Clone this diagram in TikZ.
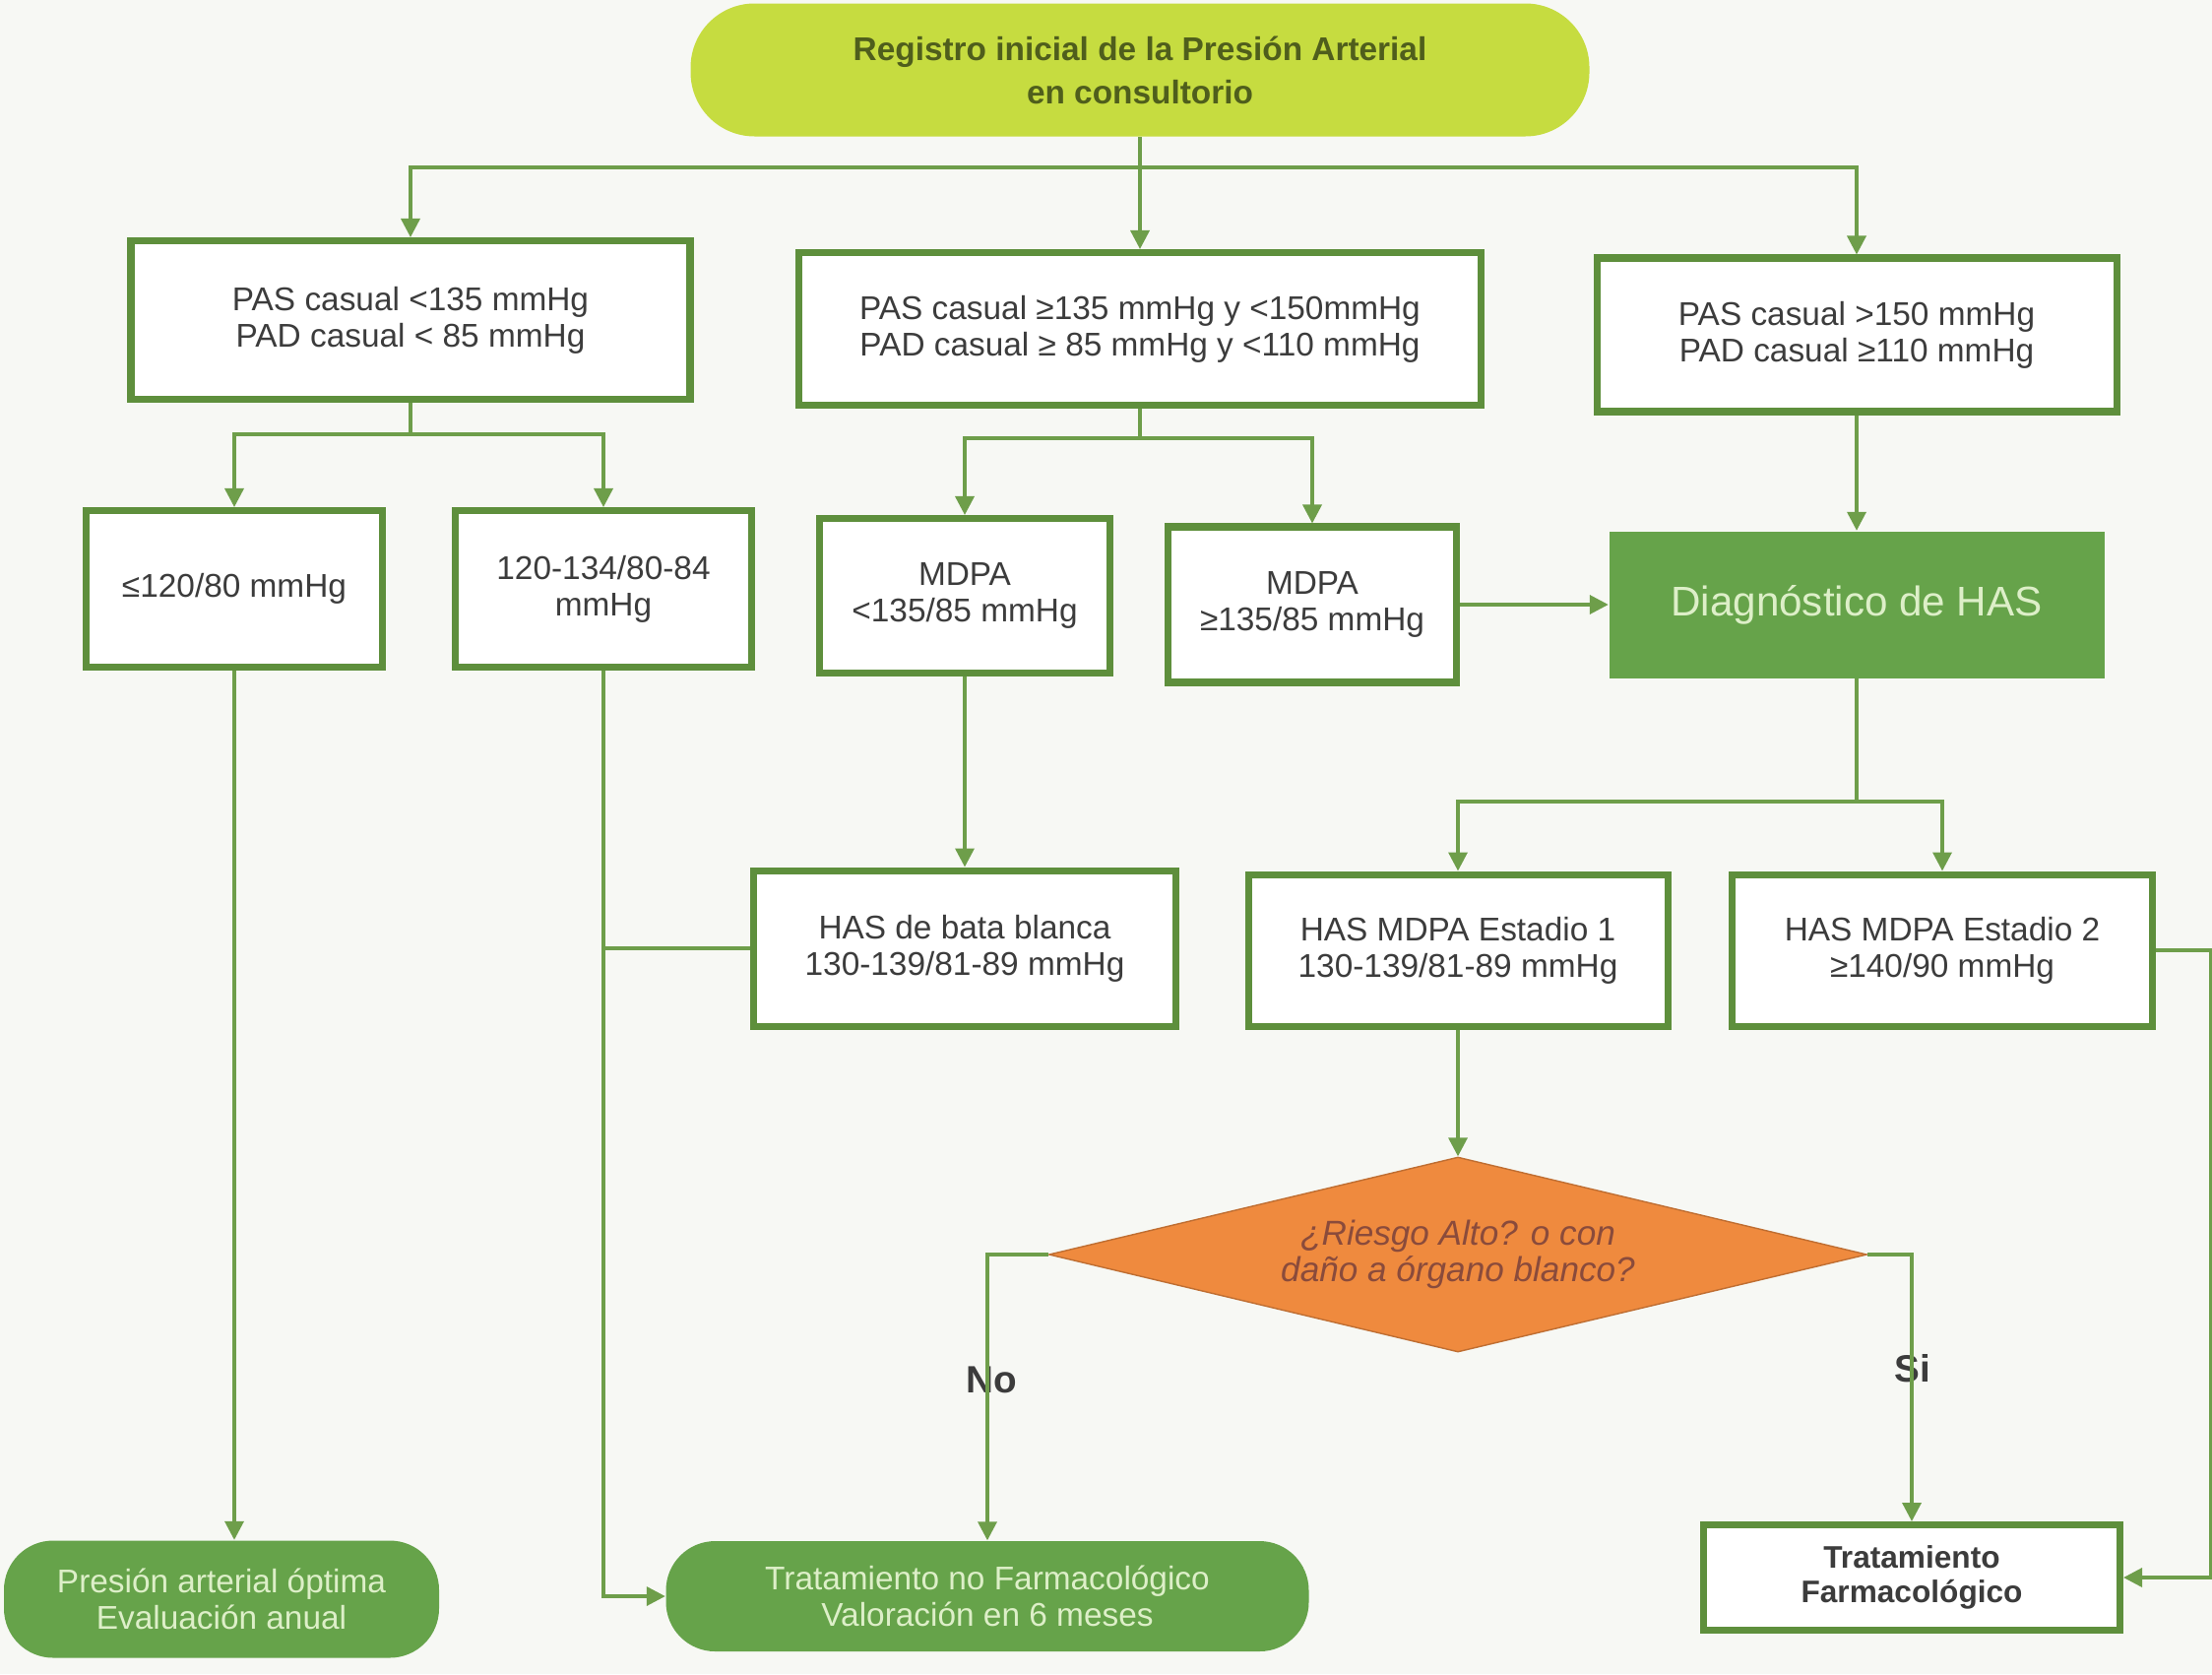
\documentclass[tikz,border=0pt]{standalone}
\usepackage{fontspec}
\setmainfont{Liberation Sans}
\usetikzlibrary{positioning, shapes.geometric, arrows.meta, calc}
\definecolor{hasgreen}{HTML}{5E8F3C}
\definecolor{haslinea}{HTML}{6E9E4A}
\definecolor{hasfill}{HTML}{66A34A}
\definecolor{haslime}{HTML}{C6DC40}
\definecolor{hasolive}{HTML}{4F5E1C}
\definecolor{hasorange}{HTML}{EF8A3E}
\definecolor{hasbrown}{HTML}{8A4B3B}
\definecolor{hastext}{HTML}{3C3C3C}
\definecolor{haslight}{HTML}{DDEFC8}
\definecolor{haspaper}{HTML}{F7F8F4}

\begin{document}
\begin{tikzpicture}[
    caja/.style={draw=hasgreen, line width=2pt, fill=white, text=hastext, align=center, inner sep=0pt, font=\fontsize{9.5}{10.5}\selectfont},
    final/.style={fill=hasfill, rounded corners=0.5cm, text=haslight, align=center, inner sep=0pt, font=\fontsize{9.5}{10.5}\selectfont},
    linea/.style={draw=haslinea, line width=1pt},
    flecha/.style={linea, -{Triangle[length=1.9mm, width=1.9mm]}},
    etiqueta/.style={font=\bfseries\fontsize{11}{13}\selectfont, text=hastext}
  ]
    \fill[haspaper] (0,0) rectangle (22.47,-17);
    \useasboundingbox (0,0) rectangle (22.47,-17);

    \node[fill=haslime, rounded corners=0.65cm, minimum width=9.13cm, minimum height=1.35cm, text=hasolive, align=center, font=\bfseries\fontsize{9.5}{12.5}\selectfont] (reg) at (11.58,-0.71) {Registro inicial de la Presión Arterial\\en consultorio};

    \node[caja, minimum width=5.68cm, minimum height=1.61cm] (pas1) at (4.17,-3.25) {PAS casual <135 mmHg\\PAD casual < 85 mmHg};
    \node[caja, minimum width=6.93cm, minimum height=1.55cm] (pas2) at (11.58,-3.34) {PAS casual ≥135 mmHg y <150mmHg\\PAD casual ≥ 85 mmHg y <110 mmHg};
    \node[caja, minimum width=5.28cm, minimum height=1.56cm] (pas3) at (18.86,-3.40) {PAS casual >150 mmHg\\PAD casual ≥110 mmHg};

    \node[caja, minimum width=3.01cm, minimum height=1.59cm] (opt) at (2.38,-5.98) {≤120/80 mmHg};
    \node[caja, minimum width=3.01cm, minimum height=1.59cm] (normal) at (6.13,-5.98) {120-134/80-84\\mmHg};
    \node[caja, minimum width=2.95cm, minimum height=1.57cm] (mdpa1) at (9.80,-6.05) {MDPA\\<135/85 mmHg};
    \node[caja, minimum width=2.93cm, minimum height=1.58cm] (mdpa2) at (13.33,-6.14) {MDPA\\≥135/85 mmHg};
    \node[fill=hasfill, minimum width=5.03cm, minimum height=1.49cm, inner sep=0pt, text=haslight, font=\fontsize{12}{14}\selectfont] (diag) at (18.86,-6.14) {Diagnóstico de HAS};

    \node[caja, minimum width=4.29cm, minimum height=1.58cm] (bata) at (9.80,-9.63) {HAS de bata blanca\\130-139/81-89 mmHg};
    \node[caja, minimum width=4.26cm, minimum height=1.54cm] (est1) at (14.81,-9.65) {HAS MDPA Estadio 1\\130-139/81-89 mmHg};
    \node[caja, minimum width=4.27cm, minimum height=1.54cm] (est2) at (19.73,-9.65) {HAS MDPA Estadio 2\\≥140/90 mmHg};

    \node[diamond, aspect=4.2, fill=hasorange, draw=hasorange!80!black, minimum width=8.31cm, minimum height=1.98cm, inner sep=0pt, text=hasbrown, align=center, font=\itshape\fontsize{10}{10.5}\selectfont] (riesgo) at (14.81,-12.74) {¿Riesgo Alto? o con\\daño a órgano blanco?};

    \node[final, minimum width=4.42cm, minimum height=1.19cm] (optima) at (2.25,-16.24) {Presión arterial óptima\\Evaluación anual};
    \node[final, minimum width=6.53cm, minimum height=1.12cm] (nofarm) at (10.03,-16.21) {Tratamiento no Farmacológico\\Valoración en 6 meses};
    \node[caja, minimum width=4.23cm, minimum height=1.07cm, font=\bfseries\fontsize{9}{9.8}\selectfont] (farm) at (19.42,-16.02) {Tratamiento\\Farmacológico};

    \node[etiqueta] (no) at (10.07,-14.01) {No};
    \node[etiqueta] (si) at (19.43,-13.90) {Si};

    \draw[flecha] (reg.south) -- (pas2.north);
    \draw[flecha] (reg.south) -- ++(0,-0.31) -| (pas1.north);
    \draw[flecha] (reg.south) -- ++(0,-0.31) -| (pas3.north);

    \draw[flecha] (pas1.south) -- ++(0,-0.32) -| (opt.north);
    \draw[flecha] (pas1.south) -- ++(0,-0.32) -| (normal.north);
    \draw[flecha] (pas2.south) -- ++(0,-0.30) -| (mdpa1.north);
    \draw[flecha] (pas2.south) -- ++(0,-0.30) -| (mdpa2.north);
    \draw[flecha] (pas3.south) -- (diag.north);
    \draw[flecha] (mdpa2.east) -- (diag.west);

    \draw[flecha] (mdpa1.south) -- (bata.north);
    \draw[flecha] (diag.south) -- ++(0,-1.25) -| (est1.north);
    \draw[flecha] (diag.south) -- ++(0,-1.25) -| (est2.north);
    \draw[linea] (bata.west) -- (bata.west -| normal.south);

    \draw[flecha] (est1.south) -- (riesgo.north);
    \draw[flecha] (riesgo.west) -| (nofarm.north);
    \draw[flecha] (riesgo.east) -| (farm.north);
    \draw[flecha] (est2.east) -- ++(0.56,0) |- (farm.east);

    \draw[flecha] (opt.south) -- (opt.south |- optima.north);
    \draw[flecha] (normal.south) |- (nofarm.west);
\end{tikzpicture}
\end{document}
